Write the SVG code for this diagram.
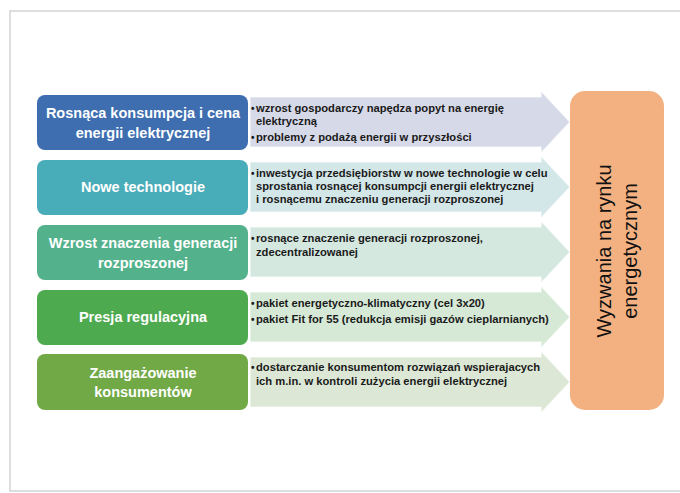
<svg xmlns="http://www.w3.org/2000/svg" width="680" height="493" viewBox="0 0 680 493">
<style>
.box{stroke:none}
.bt{font-family:"Liberation Sans",Arial,sans-serif;font-weight:bold;font-size:14.5px;fill:#ffffff;text-anchor:middle}
.at{font-family:"Liberation Sans",Arial,sans-serif;font-weight:bold;font-size:11.2px;fill:#1a1a1a}
.bu{font-family:"Liberation Sans",Arial,sans-serif;font-weight:bold;font-size:10px;fill:#1a1a1a}
.arr{stroke:#ffffff;stroke-width:1.2;stroke-opacity:0.7}
.ot{font-family:"Liberation Sans",Arial,sans-serif;font-size:20px;fill:#111111;text-anchor:middle}
</style>
<rect x="10" y="11" width="690" height="480" fill="#ffffff" stroke="#c8c8c8" stroke-width="1.2"/>
<g id="connectors">
<path class="arr" fill="#d6d9e8" d="M250,97 H541 V91 L570,122 L541,153 V147 H250 Z"/>
<path class="arr" fill="#d3e6e8" d="M250,162 H541 V156 L570,187 L541,218 V212 H250 Z"/>
<path class="arr" fill="#d4e8e0" d="M250,227 H541 V221 L570,252 L541,283 V277 H250 Z"/>
<path class="arr" fill="#d6e9d6" d="M250,292 H541 V286 L570,317 L541,348 V342 H250 Z"/>
<path class="arr" fill="#dce8d5" d="M250,357 H541 V351 L570,382 L541,413 V407 H250 Z"/>
</g>
<g id="node1">
<rect class="box" x="37" y="95" width="211" height="55" rx="8" fill="#3e6db0"/>
<text class="bt" x="143" y="118">Rosnąca konsumpcja i cena</text>
<text class="bt" x="143" y="138">energii elektrycznej</text>
</g>
<g id="node2">
<rect class="box" x="37" y="160" width="211" height="55" rx="8" fill="#49acb9"/>
<text class="bt" x="143" y="192">Nowe technologie</text>
</g>
<g id="node3">
<rect class="box" x="37" y="225" width="211" height="55" rx="8" fill="#53b18b"/>
<text class="bt" x="143" y="248">Wzrost znaczenia generacji</text>
<text class="bt" x="143" y="268">rozproszonej</text>
</g>
<g id="node4">
<rect class="box" x="37" y="290" width="211" height="55" rx="8" fill="#4eaa4f"/>
<text class="bt" x="143" y="322">Presja regulacyjna</text>
</g>
<g id="node5">
<rect class="box" x="37" y="354" width="211" height="56" rx="8" fill="#71a946"/>
<text class="bt" x="143" y="378">Zaangażowanie</text>
<text class="bt" x="143" y="397">konsumentów</text>
</g>
<g id="text1">
<text class="bu" x="251" y="112">•</text>
<text class="at" x="256" y="112">wzrost gospodarczy napędza popyt na energię</text>
<text class="at" x="256" y="125">elektryczną</text>
<text class="bu" x="251" y="141">•</text>
<text class="at" x="256" y="141">problemy z podażą energii w przyszłości</text>
</g>
<g id="text2">
<text class="bu" x="251" y="177">•</text>
<text class="at" x="256" y="177">inwestycja przedsiębiorstw w nowe technologie w celu</text>
<text class="at" x="256" y="190">sprostania rosnącej konsumpcji energii elektrycznej</text>
<text class="at" x="256" y="203">i rosnącemu znaczeniu generacji rozproszonej</text>
</g>
<g id="text3">
<text class="bu" x="251" y="242">•</text>
<text class="at" x="256" y="242">rosnące znaczenie generacji rozproszonej,</text>
<text class="at" x="256" y="256">zdecentralizowanej</text>
</g>
<g id="text4">
<text class="bu" x="251" y="307">•</text>
<text class="at" x="256" y="307">pakiet energetyczno-klimatyczny (cel 3x20)</text>
<text class="bu" x="251" y="323">•</text>
<text class="at" x="256" y="323">pakiet Fit for 55 (redukcja emisji gazów cieplarnianych)</text>
</g>
<g id="text5">
<text class="bu" x="251" y="371">•</text>
<text class="at" x="256" y="371">dostarczanie konsumentom rozwiązań wspierajacych</text>
<text class="at" x="256" y="385">ich m.in. w kontroli zużycia energii elektrycznej</text>
</g>
<g id="target">
<rect x="570" y="91" width="94" height="319" rx="15" fill="#f3b182"/>
<text class="ot" transform="translate(611,251) rotate(-90)">Wyzwania na rynku</text>
<text class="ot" transform="translate(637,251) rotate(-90)">energetycznym</text>
</g>
</svg>
